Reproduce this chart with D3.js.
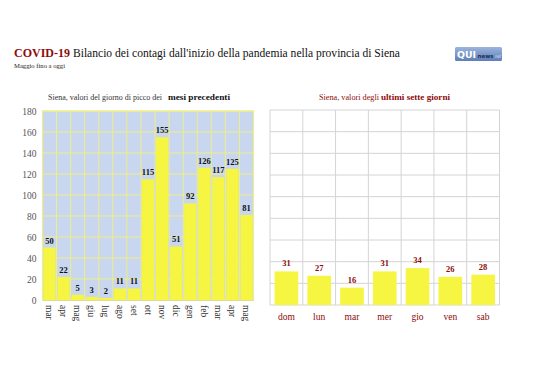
<!DOCTYPE html>
<html><head><meta charset="utf-8">
<script src="https://cdn.jsdelivr.net/npm/d3@7"></script>
<style>html,body{margin:0;padding:0;background:#fff;} svg{display:block;font-family:"Liberation Serif","DejaVu Serif",serif;}</style>
</head><body>
<svg id="c" width="538" height="380"></svg>
<script>
const months = ["mar","apr","mag","giu","lug","ago","set","ott","nov","dic","gen","feb","mar","apr","mag"];
const peakValues = [50,22,5,3,2,11,11,115,155,51,92,126,117,125,81];
const days = ["dom","lun","mar","mer","gio","ven","sab"];
const weekValues = [31,27,16,31,34,26,28];
const yTicks = [0,20,40,60,80,100,120,140,160,180];

const svg = d3.select("#c");
const RED = "#8e0b0b";

function fitText(x, y, size, len, txt, opts = {}) {
  const el = svg.append("text").attr("x",x).attr("y",y).attr("font-size",size)
    .attr("textLength",len).attr("lengthAdjust","spacingAndGlyphs").text(txt);
  if (opts.bold) el.attr("font-weight","bold");
  el.attr("fill", opts.fill || "#111");
  if (opts.family) el.attr("font-family", opts.family);
  return el;
}

// Title
fitText(14,57,13.5,56,"COVID-19",{bold:true,fill:RED});
fitText(73,57,13.5,327,"Bilancio dei contagi dall'inizio della pandemia nella provincia di Siena");
fitText(14,68,7,51,"Maggio fino a oggi",{fill:"#222"});

// Logo
const defs = svg.append("defs");
const lg = defs.append("linearGradient").attr("id","lg").attr("x1",0).attr("y1",0).attr("x2",0).attr("y2",1);
lg.append("stop").attr("offset","0%").attr("stop-color","#9db4dc");
lg.append("stop").attr("offset","100%").attr("stop-color","#5d7fb8");
svg.append("rect").attr("x",455).attr("y",47).attr("width",47).attr("height",14).attr("rx",1.5).attr("fill","url(#lg)");
fitText(457,58,9,19,"QUI",{bold:true,fill:"#fff",family:"DejaVu Sans"});
fitText(477.5,58,5.5,16,"news",{bold:true,fill:"#1d2f55",family:"DejaVu Sans"});
fitText(494,58,4.5,7,".net",{fill:"#dfe8f7",family:"DejaVu Sans"});

// ---------- Left chart ----------
const L = {x0:42.5, x1:253.5, y0:111, y1:300};
const xL = d3.scaleBand().domain(d3.range(months.length)).range([L.x0,L.x1]).paddingInner(0.14).paddingOuter(0.07);
const xLg = d3.scaleBand().domain(d3.range(months.length)).range([L.x0,L.x1]);
const yL = d3.scaleLinear().domain([0,180]).range([L.y1,L.y0]);

fitText(48,100,8,114,"Siena, valori del giorno di picco dei",{fill:"#333"});
fitText(168,100,8,62,"mesi precedenti",{bold:true,fill:"#111"});

svg.append("rect").attr("x",L.x0).attr("y",L.y0).attr("width",L.x1-L.x0).attr("height",L.y1-L.y0).attr("fill","#c8d6ef");
const gL = svg.append("g");
gL.selectAll("line.h").data(yTicks).join("line")
  .attr("x1",L.x0).attr("x2",L.x1).attr("y1",d=>yL(d)).attr("y2",d=>yL(d))
  .attr("stroke","#eeee88").attr("stroke-width",1);
gL.selectAll("line.v").data(d3.range(months.length+1)).join("line")
  .attr("x1",i=>i<months.length?xLg(i):L.x1).attr("x2",i=>i<months.length?xLg(i):L.x1)
  .attr("y1",L.y0).attr("y2",L.y1).attr("stroke","#eeee88").attr("stroke-width",1);
svg.append("rect").attr("x",L.x0).attr("y",L.y0).attr("width",L.x1-L.x0).attr("height",L.y1-L.y0)
  .attr("fill","none").attr("stroke","#eeee88").attr("stroke-width",1.2);

svg.selectAll("rect.bl").data(peakValues).join("rect").attr("class","bl")
  .attr("x",(d,i)=>xL(i)).attr("width",xL.bandwidth())
  .attr("y",d=>yL(d)).attr("height",d=>yL(0)-yL(d)).attr("fill","#f5f542");
svg.selectAll("text.vl").data(peakValues).join("text").attr("class","vl")
  .attr("x",(d,i)=>xL(i)+xL.bandwidth()/2).attr("y",d=>yL(d)-4)
  .attr("text-anchor","middle").attr("font-size",8.5).attr("font-weight","bold").attr("fill","#111").text(d=>d);

const ay = d3.axisLeft(yL).tickValues(yTicks).tickSize(0).tickPadding(6);
const gay = svg.append("g").attr("transform",`translate(${L.x0},0)`).call(ay);
gay.select(".domain").remove();
gay.selectAll("text").attr("font-family","Liberation Serif").attr("font-size",9.5).attr("fill","#555");

const ax = d3.axisBottom(xLg).tickFormat(i=>months[i]).tickSize(0).tickPadding(0);
const gax = svg.append("g").attr("transform",`translate(0,${L.y1})`).call(ax);
gax.select(".domain").attr("stroke","#dddd99");
gax.selectAll("text").attr("font-family","Liberation Serif").attr("font-size",9.5).attr("fill","#333")
  .attr("transform","rotate(90)").attr("text-anchor","start").attr("dy","0.35em").attr("x",5).attr("y",0);

// ---------- Right chart ----------
const R = {x0:270, x1:499.5, y0:110, y1:305};
const xR = d3.scaleBand().domain(d3.range(days.length)).range([R.x0,R.x1]).paddingInner(0.28).paddingOuter(0.14);
const xRg = d3.scaleBand().domain(d3.range(days.length)).range([R.x0,R.x1]);
const yR = d3.scaleLinear().domain([0,180]).range([R.y1,R.y0]);

fitText(319,100,8,60,"Siena, valori degli",{fill:RED});
fitText(381,100,8,69,"ultimi sette giorni",{bold:true,fill:RED});

const gR = svg.append("g");
gR.selectAll("line.h").data(yTicks).join("line")
  .attr("x1",R.x0).attr("x2",R.x1).attr("y1",d=>yR(d)).attr("y2",d=>yR(d))
  .attr("stroke","#d4d4d4").attr("stroke-width",1);
gR.selectAll("line.v").data(d3.range(days.length+1)).join("line")
  .attr("x1",i=>i<days.length?xRg(i):R.x1).attr("x2",i=>i<days.length?xRg(i):R.x1)
  .attr("y1",R.y0).attr("y2",R.y1).attr("stroke","#d4d4d4").attr("stroke-width",1);

svg.selectAll("rect.br").data(weekValues).join("rect").attr("class","br")
  .attr("x",(d,i)=>xR(i)).attr("width",xR.bandwidth())
  .attr("y",d=>yR(d)).attr("height",d=>yR(0)-yR(d)).attr("fill","#f5f542");
svg.selectAll("text.vr").data(weekValues).join("text").attr("class","vr")
  .attr("x",(d,i)=>xR(i)+xR.bandwidth()/2).attr("y",d=>yR(d)-5)
  .attr("text-anchor","middle").attr("font-size",8.5).attr("font-weight","bold").attr("fill",RED).text(d=>d);

const axR = d3.axisBottom(xRg).tickFormat(i=>days[i]).tickSize(0).tickPadding(8);
const gaxR = svg.append("g").attr("transform",`translate(0,${R.y1})`).call(axR);
gaxR.select(".domain").remove();
gaxR.selectAll("text").attr("font-family","Liberation Serif").attr("font-size",9.5).attr("fill",RED);
</script>
</body></html>
